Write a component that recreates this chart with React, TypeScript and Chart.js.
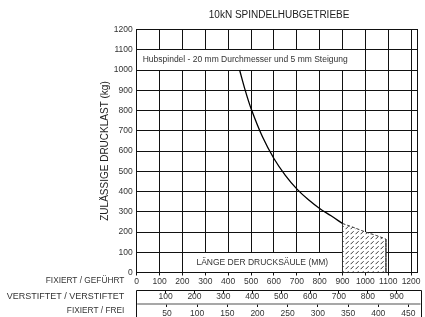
import React, { useEffect, useRef } from "react";
import { Chart, registerables } from "chart.js";

Chart.register(...registerables);

const TITLE = "10kN SPINDELHUBGETRIEBE";
const Y_TITLE = "ZULÄSSIGE DRUCKLAST (kg)";
const SPINDLE_NOTE = "Hubspindel - 20 mm Durchmesser und 5 mm Steigung";
const LENGTH_NOTE = "LÄNGE DER DRUCKSÄULE (MM)";
const ROW_LABELS = ["FIXIERT / GEFÜHRT", "VERSTIFTET / VERSTIFTET", "FIXIERT / FREI"];

// permissible load curve (length mm -> load kg)
const curveLength = [450, 475, 500, 550, 600, 650, 700, 750, 800, 850, 900];
const curveLoad = [1000, 898, 810, 670, 563, 480, 413, 360, 316, 280, 242];

// hatched region
const hatchLength = [900, 900, 950, 1000, 1050, 1090, 1090];
const hatchLoad = [0, 242, 222, 200, 182, 165, 0];

// axis ranges
const X_MAX = 1228;
const X_STEP = 100;
const ROW2_MAX = 972;
const ROW2_STEP = 100;
const ROW3_MAX = 465;
const ROW3_STEP = 50;
const Y_MAX = 1200;
const Y_STEP = 100;

// note boxes (data coordinates)
const SPINDLE_BOX = { x0: 0, x1: 950, y0: 1000, y1: 1100 };
const LENGTH_BOX = { x0: 235, x1: 900, y0: 0, y1: 100 };

const FONT = "'Liberation Sans', Arial, Helvetica, sans-serif";
const INK = "#111";
const TEXT = "#333";

function makePattern(): CanvasPattern | string {
  const c = document.createElement("canvas");
  c.width = 5;
  c.height = 5;
  const g = c.getContext("2d");
  if (!g) return "#fff";
  g.fillStyle = "#fff";
  g.fillRect(0, 0, 5, 5);
  g.strokeStyle = "#222";
  g.lineWidth = 0.9;
  g.beginPath();
  g.moveTo(0.6, 4.2);
  g.lineTo(3.6, 1.2);
  g.stroke();
  return g.createPattern(c, "repeat") || "#fff";
}

const al = (p: number) => Math.round(p - 0.5) + 0.5;
const plain = (v: any) => String(v);
const plainNoZero = (v: any) => (v === 0 ? "" : String(v));

const extras = {
  id: "extras",
  beforeDatasetsDraw(chart: any) {
    const { ctx, chartArea } = chart;
    const x = chart.scales.x;
    const y = chart.scales.y;
    ctx.save();
    ctx.fillStyle = "#fff";
    for (const b of [SPINDLE_BOX, LENGTH_BOX]) {
      const l = b.x0 === 0 ? chartArea.left : x.getPixelForValue(b.x0);
      const r = x.getPixelForValue(b.x1);
      const t = y.getPixelForValue(b.y1);
      const bt = y.getPixelForValue(b.y0);
      const L = Math.round(l - 0.5) + 1;
      const R = Math.round(r - 0.5);
      const T = Math.round(t - 0.5) + 1;
      const B = Math.round(bt - 0.5);
      ctx.fillRect(L, T, R - L, B - T);
    }
    ctx.fillStyle = TEXT;
    ctx.font = `8.5px ${FONT}`;
    ctx.textBaseline = "middle";
    ctx.textAlign = "left";
    ctx.fillText(
      SPINDLE_NOTE,
      chartArea.left + 6,
      (y.getPixelForValue(SPINDLE_BOX.y0) + y.getPixelForValue(SPINDLE_BOX.y1)) / 2
    );
    ctx.fillText(
      LENGTH_NOTE,
      x.getPixelForValue(LENGTH_BOX.x0) + 6,
      (y.getPixelForValue(LENGTH_BOX.y0) + y.getPixelForValue(LENGTH_BOX.y1)) / 2
    );
    ctx.restore();
  },
  afterDraw(chart: any) {
    const { ctx, chartArea } = chart;
    const x = chart.scales.x;
    const x2 = chart.scales.x2;
    const x3 = chart.scales.x3;
    ctx.save();
    // title
    ctx.fillStyle = "#222";
    ctx.font = `10px ${FONT}`;
    ctx.textAlign = "center";
    ctx.textBaseline = "middle";
    ctx.fillText(TITLE, (chartArea.left + chartArea.right) / 2 + 2, 15);

    // row frame
    const rx = chartArea.right + 3.5;
    ctx.strokeStyle = INK;
    ctx.lineWidth = 1;
    ctx.beginPath();
    ctx.moveTo(al(chartArea.left), al(x2.top));
    ctx.lineTo(al(rx), al(x2.top));
    ctx.moveTo(al(chartArea.left), al(x2.top));
    ctx.lineTo(al(chartArea.left), x3.bottom);
    ctx.moveTo(al(rx), al(x2.top));
    ctx.lineTo(al(rx), x3.bottom);
    ctx.stroke();
    ctx.strokeStyle = "#8a8a8a";
    ctx.lineWidth = 1.6;
    ctx.beginPath();
    ctx.moveTo(chartArea.left + 0.5, x3.top);
    ctx.lineTo(rx - 0.5, x3.top);
    ctx.stroke();

    // row labels
    ctx.fillStyle = TEXT;
    ctx.textAlign = "right";
    ctx.textBaseline = "middle";
    const lx = chartArea.left - 12.4;
    ctx.font = `8.3px ${FONT}`;
    ctx.fillText(ROW_LABELS[0], lx, x.top + 8.5);
    ctx.font = `9px ${FONT}`;
    ctx.fillText(ROW_LABELS[1], lx, x2.top + 6.2);
    ctx.font = `8.3px ${FONT}`;
    ctx.fillText(ROW_LABELS[2], lx, x3.top + 7);
    ctx.restore();
  },
};

export default function App() {
  const ref = useRef<HTMLCanvasElement>(null);
  useEffect(() => {
    if (!ref.current) return;
    Chart.defaults.font.family = FONT;
    const pattern = makePattern();
    const hideZero = (c: any) => (c.tick && c.tick.value === 0 ? "rgba(0,0,0,0)" : INK);
    const chart = new Chart(ref.current, {
      type: "line",
      data: {
        datasets: [
          {
            label: "curve",
            data: curveLength.map((v, i) => ({ x: v, y: curveLoad[i] })),
            borderColor: "#000",
            borderWidth: 1.3,
            pointRadius: 0,
            tension: 0.35,
            fill: false,
          },
          {
            label: "hatch",
            data: hatchLength.map((v, i) => ({ x: v, y: hatchLoad[i] })),
            borderColor: "#333",
            borderWidth: 1,
            pointRadius: 0,
            tension: 0,
            fill: "origin",
            backgroundColor: pattern as any,
            segment: {
              borderDash: (c: any) => (c.p0DataIndex === 0 ? [] : [3, 2]),
            },
          },
        ],
      },
      plugins: [extras],
      options: {
        animation: false,
        responsive: false,
        devicePixelRatio: 1,
        layout: { padding: { top: 29.5, right: 7.5, left: 0, bottom: 0 } },
        plugins: {
          legend: { display: false },
          tooltip: { enabled: false },
          title: { display: false },
        },
        scales: {
          x: {
            type: "linear",
            position: "bottom",
            weight: 0,
            min: 0,
            max: X_MAX,
            afterFit: (s: any) => {
              s.height = 18;
            },
            ticks: {
              stepSize: X_STEP,
              includeBounds: false,
              autoSkip: false,
              maxRotation: 0,
              minRotation: 0,
              padding: 1.1,
              color: TEXT,
              font: { size: 8.5 },
              callback: plain,
            },
            grid: { color: INK, lineWidth: 1, tickLength: 3, drawTicks: true },
            border: { display: true, color: INK, width: 1 },
          },
          x2: {
            type: "linear",
            position: "bottom",
            weight: 1,
            min: 0,
            max: ROW2_MAX,
            afterFit: (s: any) => {
              s.height = 13.5;
            },
            ticks: {
              stepSize: ROW2_STEP,
              includeBounds: false,
              autoSkip: false,
              maxRotation: 0,
              minRotation: 0,
              padding: -2.3,
              color: TEXT,
              font: { size: 8.5 },
              callback: plainNoZero,
            },
            grid: { drawOnChartArea: false, drawTicks: true, tickLength: 3, color: hideZero },
            border: { display: false },
          },
          x3: {
            type: "linear",
            position: "bottom",
            weight: 2,
            min: 0,
            max: ROW3_MAX,
            afterFit: (s: any) => {
              s.height = 13;
            },
            ticks: {
              stepSize: ROW3_STEP,
              includeBounds: false,
              autoSkip: false,
              maxRotation: 0,
              minRotation: 0,
              padding: 1.2,
              color: TEXT,
              font: { size: 8.5 },
              callback: plainNoZero,
            },
            grid: { drawOnChartArea: false, drawTicks: true, tickLength: 3, color: hideZero },
            border: { display: false },
          },
          y: {
            type: "linear",
            position: "left",
            min: 0,
            max: Y_MAX,
            afterFit: (s: any) => {
              s.width = 136.7;
            },
            ticks: {
              stepSize: Y_STEP,
              padding: 4,
              color: TEXT,
              font: { size: 8.5 },
              callback: plain,
            },
            grid: { color: INK, lineWidth: 1, drawTicks: false },
            border: { display: true, color: INK, width: 1 },
            title: {
              display: true,
              text: Y_TITLE,
              color: "#222",
              font: { size: 10 },
              padding: { top: 99, bottom: 0 },
            },
          },
          yRight: {
            type: "linear",
            position: "right",
            min: 0,
            max: Y_MAX,
            afterFit: (s: any) => {
              s.width = 0;
            },
            ticks: { display: false },
            grid: { display: false, drawTicks: false },
            border: { display: true, color: INK, width: 1 },
          },
        },
      } as any,
    });
    return () => chart.destroy();
  }, []);
  return (
    <div style={{ position: "fixed", left: 0, top: 0, width: 425, height: 317, background: "#fff" }}>
      <canvas ref={ref} width={425} height={317} style={{ width: 425, height: 317, display: "block" }} />
    </div>
  );
}
